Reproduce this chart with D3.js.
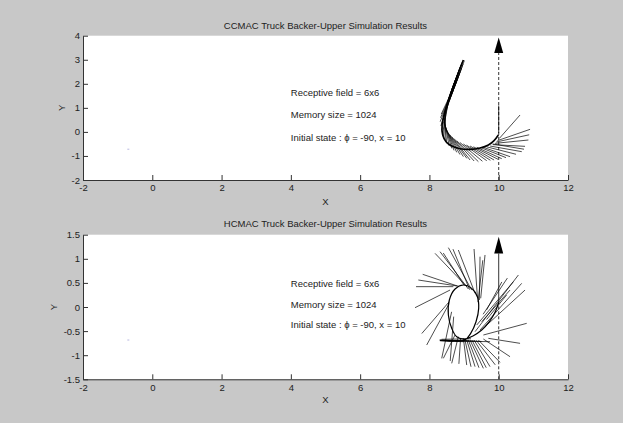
<!DOCTYPE html>
<html>
<head>
<meta charset="utf-8">
<script src="https://cdn.jsdelivr.net/npm/d3@7"></script>
<style>
  html, body { margin: 0; padding: 0; background: #c8c8c8; }
  svg text { font-family: "Liberation Sans", Arial, sans-serif; font-size: 9.5px; fill: #222; }
</style>
</head>
<body>
<div id="chart"></div>
<script>
// axis ticks
const xTicks = [-2, 0, 2, 4, 6, 8, 10, 12];
const topYTicks = [-2, -1, 0, 1, 2, 3, 4];
const bottomYTicks = [-1.5, -1, -0.5, 0, 0.5, 1, 1.5];

const titles = [
  'CCMAC Truck Backer-Upper Simulation Results',
  'HCMAC Truck Backer-Upper Simulation Results',
];
const notes = ['Receptive field = 6x6', 'Memory size = 1024', 'Initial state : \u03d5 = -90, x = 10'];
const noteX = 4.0;
const topNoteY = [1.65, 0.7, -0.25];
const bottomNoteY = [0.49, 0.04, -0.37];

// dock target line at x = 10
const targetX = 10;
const topTarget = { tip: 3.92, base: 3.28, dashFrom: -2, dashTo: 3.28, solidFrom: 1.1, solidTo: -0.05 };
const bottomTarget = { tip: 1.46, base: 1.11, dashFrom: -1.5, dashTo: 0.1, solidFrom: 1.11, solidTo: 0.1 };

// stray dot near (-0.7, -0.7)
const topDot = [-0.72, -0.72];
const bottomDot = [-0.72, -0.685];

// CCMAC rear-axle path
const topCurve = [
  [8.98, 2.99], [8.864, 2.574], [8.71, 1.88], [8.556, 1.257], [8.441, 0.772], [8.364, 0.287],
  [8.383, -0.129], [8.479, -0.406], [8.643, -0.586], [8.883, -0.697], [9.172, -0.725],
  [9.461, -0.669], [9.702, -0.545], [9.865, -0.364], [9.99, -0.129],
];

// CCMAC truck bodies [x1, y1, x2, y2]
const topSegments = [
  [8.98, 2.99, 8.7, 1.95], [8.95, 2.9, 8.66, 1.8], [8.92, 2.8, 8.63, 1.7],
  [8.89, 2.7, 8.6, 1.58], [8.85, 2.55, 8.56, 1.42], [8.81, 2.4, 8.52, 1.25],
  [8.77, 2.25, 8.48, 1.08], [8.73, 2.08, 8.45, 0.92], [8.69, 1.92, 8.42, 0.78],
  [8.65, 1.75, 8.4, 0.64], [8.61, 1.6, 8.38, 0.5],
  [9.01, 2.97, 8.76, 2.0], [8.97, 2.82, 8.72, 1.85], [8.93, 2.66, 8.67, 1.66],
  [8.88, 2.48, 8.62, 1.47], [8.83, 2.3, 8.57, 1.28], [8.78, 2.12, 8.52, 1.1],
  [8.67, 1.74, 8.34, 0.74], [8.65, 1.64, 8.32, 0.59],
  [8.62, 1.53, 8.31, 0.425], [8.59, 1.4, 8.33, 0.25], [8.556, 1.257, 8.355, 0.079],
  [8.53, 1.12, 8.38, -0.06], [8.49, 0.98, 8.403, -0.198], [8.46, 0.84, 8.45, -0.34],
  [8.422, 0.703, 8.499, -0.476], [8.42, 0.56, 8.57, -0.58], [8.422, 0.425, 8.643, -0.684],
  [8.44, 0.31, 8.71, -0.77], [8.46, 0.19, 8.788, -0.85], [8.49, 0.08, 8.88, -0.94],
  [8.537, -0.032, 8.98, -1.03], [8.59, -0.12, 9.08, -1.1], [8.643, -0.198, 9.173, -1.169],
  [8.71, -0.28, 9.29, -1.21], [8.788, -0.365, 9.413, -1.238], [8.88, -0.44, 9.53, -1.22],
  [8.98, -0.503, 9.654, -1.196], [9.07, -0.55, 9.76, -1.18], [9.173, -0.587, 9.866, -1.169],
  [9.27, -0.62, 9.98, -1.14], [9.365, -0.642, 10.087, -1.113], [9.46, -0.64, 10.21, -1.07],
  [9.558, -0.642, 10.328, -1.03], [9.65, -0.62, 10.5, -0.93], [9.75, -0.587, 10.665, -0.822],
  [9.82, -0.5, 10.73, -0.72], [9.83, -0.53, 10.76, -0.6], [9.895, -0.476, 10.857, -0.337],
  [9.93, -0.42, 10.88, -0.12], [9.962, -0.365, 10.905, 0.107], [10.02, -0.268, 10.616, 0.703],
];

// HCMAC rear-axle path
const bottomCurve = [
  [10.0, 0.097], [9.894, -0.111], [9.73, -0.305], [9.509, -0.477], [9.268, -0.595],
  [9.028, -0.664], [8.787, -0.616], [8.643, -0.443], [8.547, -0.166], [8.575, 0.145],
  [8.739, 0.373], [8.98, 0.456], [9.22, 0.387], [9.384, 0.214], [9.422, -0.028],
  [9.345, -0.305], [9.191, -0.547], [9.028, -0.685], [8.691, -0.706], [8.306, -0.692],
];

// HCMAC truck bodies [x1, y1, x2, y2]
const bottomSegments = [
  [9.076, 0.422, 8.162, 1.113], [9.124, 0.373, 8.306, 1.148], [9.22, 0.352, 8.547, 1.231],
  [9.317, 0.283, 8.835, 1.182], [9.384, 0.214, 9.288, 1.203], [9.442, 0.145, 9.461, 1.044],
  [9.48, 0.18, 9.605, 1.079], [9.4, 0.1, 9.54, 0.97], [9.0, 0.45, 8.4, 1.12],
  [9.16, 0.36, 8.68, 1.2], [8.864, 0.422, 7.805, 0.678], [8.806, 0.435, 7.68, 0.56],
  [8.691, 0.422, 7.613, 0.422], [8.595, 0.352, 7.584, -0.014], [8.56, 0.1, 7.78, -0.55],
  [8.547, 0.041, 7.921, -0.789], [8.64, -0.1, 8.355, -1.065], [8.7, -0.2, 8.6, -1.12],
  [9.317, -0.512, 10.568, 0.664], [9.461, -0.477, 10.664, 0.491], [9.605, -0.408, 10.76, 0.352],
  [9.365, -0.374, 10.423, 0.525], [9.509, -0.305, 10.327, 0.352], [9.65, -0.26, 10.23, 0.25],
  [9.65, -0.06, 10.09, 0.52], [9.55, -0.15, 10.25, 0.6], [9.557, -0.581, 10.808, -0.339],
  [9.701, -0.65, 10.616, -0.754], [8.739, -0.581, 8.402, -1.065], [8.835, -0.616, 8.643, -1.169],
  [8.98, -0.65, 9.076, -1.204], [9.076, -0.685, 9.317, -1.238], [9.172, -0.685, 9.557, -1.273],
  [9.288, -0.685, 9.749, -1.238], [9.413, -0.685, 10.038, -1.148], [9.557, -0.664, 10.327, -1.031],
  [8.9, -0.64, 8.85, -1.18], [9.02, -0.67, 9.2, -1.24], [9.12, -0.68, 9.43, -1.26],
  [9.23, -0.69, 9.64, -1.26], [9.35, -0.69, 9.9, -1.2], [8.29, -0.685, 9.1, -0.7],
  [8.32, -0.69, 9.3, -0.71], [8.4, -0.69, 9.5, -0.715], [8.5, -0.7, 9.75, -0.72],
  [8.35, -0.67, 9.2, -0.66], [8.3, -0.7, 9.0, -0.72],
];

const width = 623;
const height = 423;
const xRange = [83, 568];
const arrowHalf = 0.13;

const panels = [
  {
    title: titles[0], top: 35.7, bottom: 180, yDomain: [-2, 4], yTicks: topYTicks,
    titleY: 26, xLabelY: 202, yLabelX: 62, notesY: topNoteY, target: topTarget,
    curve: topCurve, segments: topSegments, dot: topDot, curveWidth: 1.6,
  },
  {
    title: titles[1], top: 234.7, bottom: 379.3, yDomain: [-1.5, 1.5], yTicks: bottomYTicks,
    titleY: 224, xLabelY: 400, yLabelX: 54, notesY: bottomNoteY, target: bottomTarget,
    curve: bottomCurve, segments: bottomSegments, dot: bottomDot, curveWidth: 1.2,
  },
];

const svg = d3.select('#chart')
  .append('svg')
  .attr('width', width)
  .attr('height', height);

svg.append('rect').attr('width', width).attr('height', height).attr('fill', '#c8c8c8');

panels.forEach((p) => {
  const x = d3.scaleLinear().domain([-2, 12]).range(xRange);
  const y = d3.scaleLinear().domain(p.yDomain).range([p.bottom, p.top]);

  // white plot area
  svg.append('rect')
    .attr('x', xRange[0])
    .attr('y', p.top)
    .attr('width', xRange[1] - xRange[0])
    .attr('height', p.bottom - p.top)
    .attr('fill', '#fff');

  const g = svg.append('g');

  // stray dot
  g.append('line')
    .attr('x1', x(p.dot[0])).attr('x2', x(p.dot[0]) + 2)
    .attr('y1', y(p.dot[1])).attr('y2', y(p.dot[1]))
    .attr('stroke', '#b8b8e0').attr('stroke-width', 1);

  // target line
  const t = p.target;
  g.append('line')
    .attr('x1', x(targetX)).attr('x2', x(targetX))
    .attr('y1', y(t.dashFrom)).attr('y2', y(t.dashTo))
    .attr('stroke', '#000').attr('stroke-width', 0.8)
    .attr('stroke-dasharray', '3,2');
  g.append('line')
    .attr('x1', x(targetX)).attr('x2', x(targetX))
    .attr('y1', y(t.solidFrom)).attr('y2', y(t.solidTo))
    .attr('stroke', '#000').attr('stroke-width', 0.8);
  g.append('path')
    .attr('d', `M${x(targetX)},${y(t.tip)}L${x(targetX + arrowHalf)},${y(t.base)}L${x(targetX - arrowHalf)},${y(t.base)}Z`)
    .attr('fill', '#000');

  // truck bodies
  g.selectAll('line.seg')
    .data(p.segments)
    .enter()
    .append('line')
    .attr('class', 'seg')
    .attr('x1', (d) => x(d[0]))
    .attr('y1', (d) => y(d[1]))
    .attr('x2', (d) => x(d[2]))
    .attr('y2', (d) => y(d[3]))
    .attr('stroke', '#000')
    .attr('stroke-width', 0.7);

  // trajectory
  g.append('path')
    .datum(p.curve)
    .attr('d', d3.line().x((d) => x(d[0])).y((d) => y(d[1])).curve(d3.curveCatmullRom))
    .attr('fill', 'none')
    .attr('stroke', '#000')
    .attr('stroke-width', p.curveWidth);

  // axes
  const xAxis = svg.append('g')
    .attr('transform', `translate(0,${p.bottom})`)
    .call(d3.axisBottom(x).tickValues(xTicks).tickFormat((d) => String(d))
      .tickSizeInner(-5).tickSizeOuter(0).tickPadding(4.5));
  const yAxis = svg.append('g')
    .attr('transform', `translate(${xRange[0]},0)`)
    .call(d3.axisLeft(y).tickValues(p.yTicks).tickFormat((d) => String(d))
      .tickSizeInner(-5).tickSizeOuter(0).tickPadding(3));
  [xAxis, yAxis].forEach((a) => {
    a.attr('font-family', null).attr('font-size', null);
    a.selectAll('path, line').attr('stroke', '#333');
    a.selectAll('text').attr('fill', '#222');
  });

  // annotations
  notes.forEach((n, i) => {
    svg.append('text')
      .attr('x', x(noteX))
      .attr('y', y(p.notesY[i]))
      .attr('dy', '0.35em')
      .text(n);
  });

  // titles and labels
  svg.append('text')
    .attr('x', (xRange[0] + xRange[1]) / 2)
    .attr('y', p.titleY)
    .attr('dy', '0.35em')
    .attr('text-anchor', 'middle')
    .text(p.title);
  svg.append('text')
    .attr('x', (xRange[0] + xRange[1]) / 2)
    .attr('y', p.xLabelY)
    .attr('dy', '0.35em')
    .attr('text-anchor', 'middle')
    .text('X');
  svg.append('text')
    .attr('transform', `translate(${p.yLabelX},${(p.top + p.bottom) / 2}) rotate(-90)`)
    .attr('dy', '0.35em')
    .attr('text-anchor', 'middle')
    .text('Y');
});
</script>
</body>
</html>
